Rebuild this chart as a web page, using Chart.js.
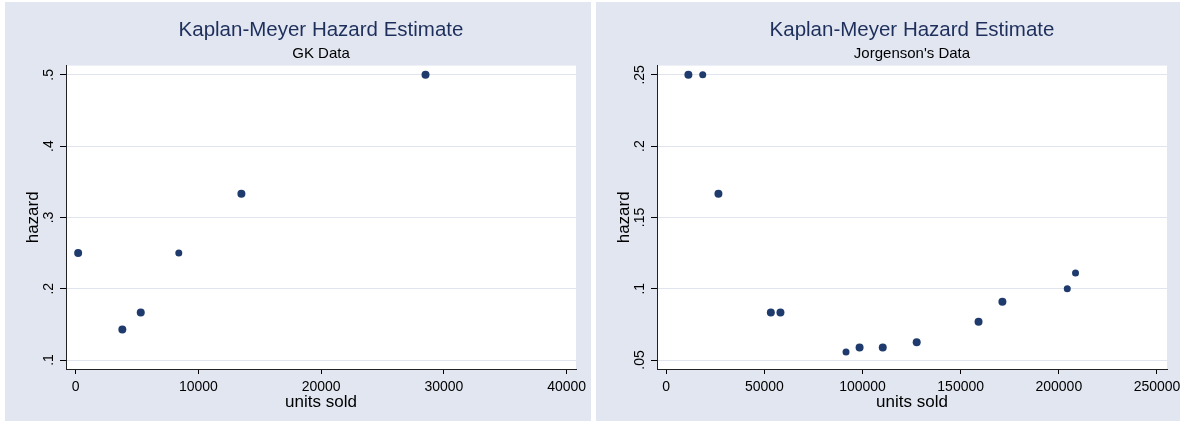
<!DOCTYPE html>
<html>
<head>
<meta charset="utf-8">
<script src="https://cdn.jsdelivr.net/npm/chart.js"></script>
<style>
  html, body { margin: 0; padding: 0; background: #fff; overflow: hidden; }
  .panel { position: absolute; top: 2px; height: 419px; background: #e1e6f0; overflow: hidden; }
  #left-panel { left: 5px; width: 586px; }
  #right-panel { left: 596px; width: 584px; }
  .panel canvas { position: absolute; left: 0; top: 0; }
</style>
</head>
<body>
<div class="panel" id="left-panel"><canvas id="gk-chart" width="632" height="419"></canvas></div>
<div class="panel" id="right-panel"><canvas id="jorg-chart" width="632" height="419"></canvas></div>
<script>
// GK data
var gkUnits  = [200, 3800, 5300, 8400, 13500, 28500];
var gkHazard = [0.25, 0.1429, 0.1667, 0.25, 0.3333, 0.5];
var gkXTicks = [0, 10000, 20000, 30000, 40000];
var gkYTicks = [0.1, 0.2, 0.3, 0.4, 0.5];

// Jorgenson's data
var jorgUnits  = [11300, 18600, 26600, 53300, 58200, 91600, 98500, 110300, 127600, 159100, 171250, 204300, 208500];
var jorgHazard = [0.25, 0.25, 0.1667, 0.0833, 0.0833, 0.0556, 0.0588, 0.0588, 0.0625, 0.0769, 0.0909, 0.1, 0.1111];
var jorgXTicks = [0, 50000, 100000, 150000, 200000, 250000];
var jorgYTicks = [0.05, 0.1, 0.15, 0.2, 0.25];

var navy = "#1f3b6e";
var font = "'Liberation Sans', Arial, sans-serif";

var plotBg = {
    id: "plotBg",
    beforeDraw: function(chart){
        var a = chart.chartArea, ctx = chart.ctx;
        ctx.save();
        ctx.fillStyle = "#ffffff";
        ctx.fillRect(a.left, a.top, a.right - a.left, a.bottom - a.top);
        ctx.restore();
    }
};

function points(xs, ys){
    return xs.map(function(x, i){ return {x: x, y: ys[i]}; });
}

function stataLabel(v){
    return String(+v.toFixed(4)).replace(/^0\./, ".");
}

function makeChart(id, subtitle, xs, ys, radii, xTicks, yTicks, xMin, xMax, yMin, yMax, yPad){
    return new Chart(document.getElementById(id), {
        type: "scatter",
        data: {
            datasets: [{
                data: points(xs, ys),
                backgroundColor: navy,
                borderWidth: 0,
                pointRadius: radii,
                pointHoverRadius: radii
            }]
        },
        options: {
            responsive: false,
            animation: false,
            layout: { padding: { left: 0, right: 0, top: 0, bottom: 8 } },
            plugins: {
                legend: { display: false },
                tooltip: { enabled: false },
                title: {
                    display: true,
                    text: "Kaplan-Meyer Hazard Estimate",
                    color: "#1e2f5c",
                    font: { family: font, size: 20.5, weight: "normal" },
                    padding: { top: 16, bottom: 0 }
                },
                subtitle: {
                    display: true,
                    text: subtitle,
                    color: "#000",
                    font: { family: font, size: 15, weight: "normal" },
                    padding: { top: 2, bottom: 3 }
                }
            },
            scales: {
                x: {
                    type: "linear",
                    position: "bottom",
                    min: xMin,
                    max: xMax,
                    afterBuildTicks: function(s){ s.ticks = xTicks.map(function(v){ return {value: v}; }); },
                    afterFit: function(s){ s.height = 44; },
                    grid: { drawOnChartArea: false, drawTicks: true, tickLength: 5, tickColor: "#000" },
                    border: { display: true, color: "#222", width: 1 },
                    ticks: {
                        color: "#000",
                        font: { family: font, size: 14 },
                        padding: 5,
                        maxRotation: 0,
                        autoSkip: false,
                        callback: function(v){ return String(v); }
                    },
                    title: {
                        display: true,
                        text: "units sold",
                        color: "#000",
                        font: { family: font, size: 17 },
                        padding: 0
                    }
                },
                y: {
                    type: "linear",
                    position: "left",
                    min: yMin,
                    max: yMax,
                    afterBuildTicks: function(s){ s.ticks = yTicks.map(function(v){ return {value: v}; }); },
                    afterFit: function(s){ s.width = 61; },
                    grid: { color: "#dfe4ee", lineWidth: 1, drawTicks: true, tickLength: 6, tickColor: "#000" },
                    border: { display: true, color: "#222", width: 1 },
                    ticks: {
                        color: "#000",
                        font: { family: font, size: 14 },
                        padding: yPad,
                        minRotation: 90,
                        maxRotation: 90,
                        crossAlign: "center",
                        autoSkip: false,
                        callback: function(v){ return stataLabel(v); }
                    },
                    title: {
                        display: true,
                        text: "hazard",
                        color: "#000",
                        font: { family: font, size: 17 },
                        padding: { top: 18, bottom: 0 }
                    }
                },
                // empty axis on the right so the titles centre over the plot region
                y2: {
                    type: "linear",
                    position: "right",
                    afterFit: function(s){ s.width = 61; },
                    grid: { display: false, drawTicks: false },
                    border: { display: false },
                    ticks: { display: false }
                }
            }
        },
        plugins: [plotBg]
    });
}

var gkRadius   = [4, 4, 4, 3.5, 4, 4];
var jorgRadius = [4, 3.5, 4, 4, 4, 3.5, 4, 4, 4, 4, 4, 3.5, 3.5];

makeChart("gk-chart", "GK Data", gkUnits, gkHazard, gkRadius, gkXTicks, gkYTicks,
    -790, 40760, 0.0874, 0.513, 5);
makeChart("jorg-chart", "Jorgenson's Data", jorgUnits, jorgHazard, jorgRadius, jorgXTicks, jorgYTicks,
    -4690, 255100, 0.0437, 0.2565, 1);
</script>
</body>
</html>
